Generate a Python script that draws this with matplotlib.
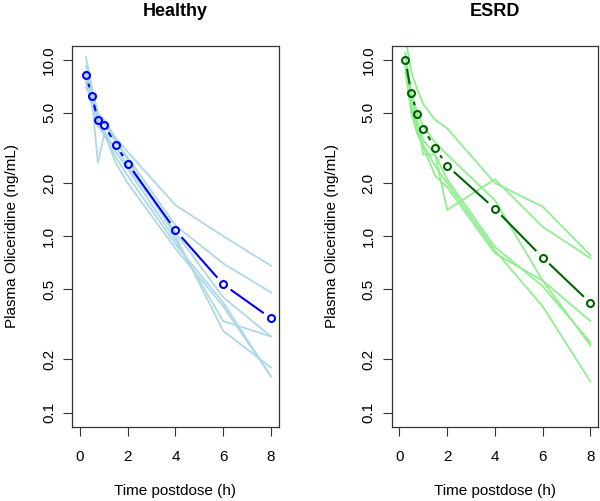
import numpy as np
import matplotlib
matplotlib.use('Agg')
import matplotlib.pyplot as plt

plt.rcParams['font.family'] = ['Liberation Sans', 'DejaVu Sans']

# sampling times (h)
times = [0.25, 0.5, 0.75, 1, 1.5, 2, 4, 6, 8]

# Healthy subjects, ng/mL
healthy_subjects = [
    [10.4, 7.0, 5.0, 4.6, 3.6, 3.0, 1.50, 1.00, 0.68],
    [8.2, 6.5, 4.6, 4.4, 3.4, 2.8, 1.15, 0.70, 0.48],
    [7.0, 6.0, 2.6, 3.7, 3.2, 2.5, 1.05, 0.45, 0.27],
    [8.5, 6.0, 4.5, 4.0, 3.0, 2.4, 0.95, 0.33, 0.27],
    [9.2, 6.8, 4.8, 4.5, 3.5, 2.7, 1.00, 0.29, 0.18],
    [7.5, 5.5, 4.2, 3.8, 2.8, 2.2, 0.90, 0.42, 0.16],
    [8.0, 5.8, 4.4, 3.9, 2.6, 2.0, 0.85, 0.40, 0.16],
]
healthy_mean = [8.2, 6.24, 4.56, 4.29, 3.30, 2.58, 1.08, 0.533, 0.342]

# ESRD subjects
esrd_subjects = [
    [13.5, 8.5, 6.8, 5.6, 4.56, 4.09, 2.0, 1.47, 0.78],
    [10.5, 6.0, 4.6, 2.9, 2.9, 1.41, 2.1, 1.13, 0.75],
    [11.0, 6.5, 5.0, 4.2, 3.4, 2.9, 1.6, 0.56, 0.33],
    [9.0, 5.5, 4.3, 3.5, 2.9, 2.1, 0.87, 0.52, 0.25],
    [8.5, 5.2, 4.0, 3.3, 2.5, 2.0, 0.83, 0.40, 0.15],
    [9.5, 5.0, 3.8, 3.2, 2.2, 1.9, 0.80, 0.56, 0.24],
]
esrd_mean = [9.96, 6.47, 4.94, 4.07, 3.17, 2.51, 1.43, 0.757, 0.418]

yticks = [0.1, 0.2, 0.5, 1.0, 2.0, 5.0, 10.0]
ytick_labels = ['0.1', '0.2', '0.5', '1.0', '2.0', '5.0', '10.0']
xticks = [0, 2, 4, 6, 8]

fig = plt.figure(figsize=(6, 5.01), dpi=100)
ax1 = fig.add_axes([0.1205, 0.1483, 0.344, 0.7605])
ax2 = fig.add_axes([0.6528, 0.1483, 0.344, 0.7605])


# mean line like R type="b": segments stop short of the circles
def draw_mean(ax, t, v, color, gap=9):
    ax.plot(t, v, 'o', mfc='none', mec=color, ms=5.0, mew=1.5, zorder=4)
    pts = ax.transData.transform(np.column_stack([t, v]))
    inv = ax.transData.inverted()
    for p0, p1 in zip(pts[:-1], pts[1:]):
        d = p1 - p0
        L = np.hypot(d[0], d[1])
        if L <= 2 * gap:
            continue
        a = inv.transform(p0 + d / L * gap)
        b = inv.transform(p1 - d / L * gap)
        ax.plot([a[0], b[0]], [a[1], b[1]], color=color, lw=1.5, zorder=3,
                solid_capstyle='butt')


def setup(ax, title):
    ax.set_yscale('log')
    ax.set_xlim(-0.32, 8.32)
    ax.set_ylim(10 ** -1.08, 10 ** 1.08)
    ax.set_yticks(yticks)
    ax.set_yticklabels(ytick_labels, rotation=90, va='center')
    ax.yaxis.set_minor_locator(matplotlib.ticker.NullLocator())
    ax.set_xticks(xticks)
    ax.tick_params(direction='out', length=6.5, width=0.8, labelsize=11,
                   color='#333333', pad=10)
    ax.tick_params(axis='y', pad=5)
    for s in ax.spines.values():
        s.set_linewidth(0.9)
        s.set_color('#333333')
    ax.text(0.5, 1.091, title, transform=ax.transAxes, ha='center',
            va='center', fontsize=13, fontweight='bold')
    ax.set_xlabel('Time postdose (h)', fontsize=11)
    ax.set_ylabel('Plasma Oliceridine (ng/mL)', fontsize=11)
    ax.xaxis.set_label_coords(0.5, -0.169)
    ax.xaxis.label.set_va('center')
    ax.yaxis.set_label_coords(-0.29, 0.5)
    ax.yaxis.label.set_va('center')


setup(ax1, 'Healthy')
setup(ax2, 'ESRD')

for s in healthy_subjects:
    ax1.plot(times, s, color='#ADD8E6', lw=1.3, zorder=2)
draw_mean(ax1, times, healthy_mean, '#0000FF')

for s in esrd_subjects:
    ax2.plot(times, s, color='#90EE90', lw=1.3, zorder=2)
draw_mean(ax2, times, esrd_mean, '#006400')

fig.savefig('out.png', dpi=100)
